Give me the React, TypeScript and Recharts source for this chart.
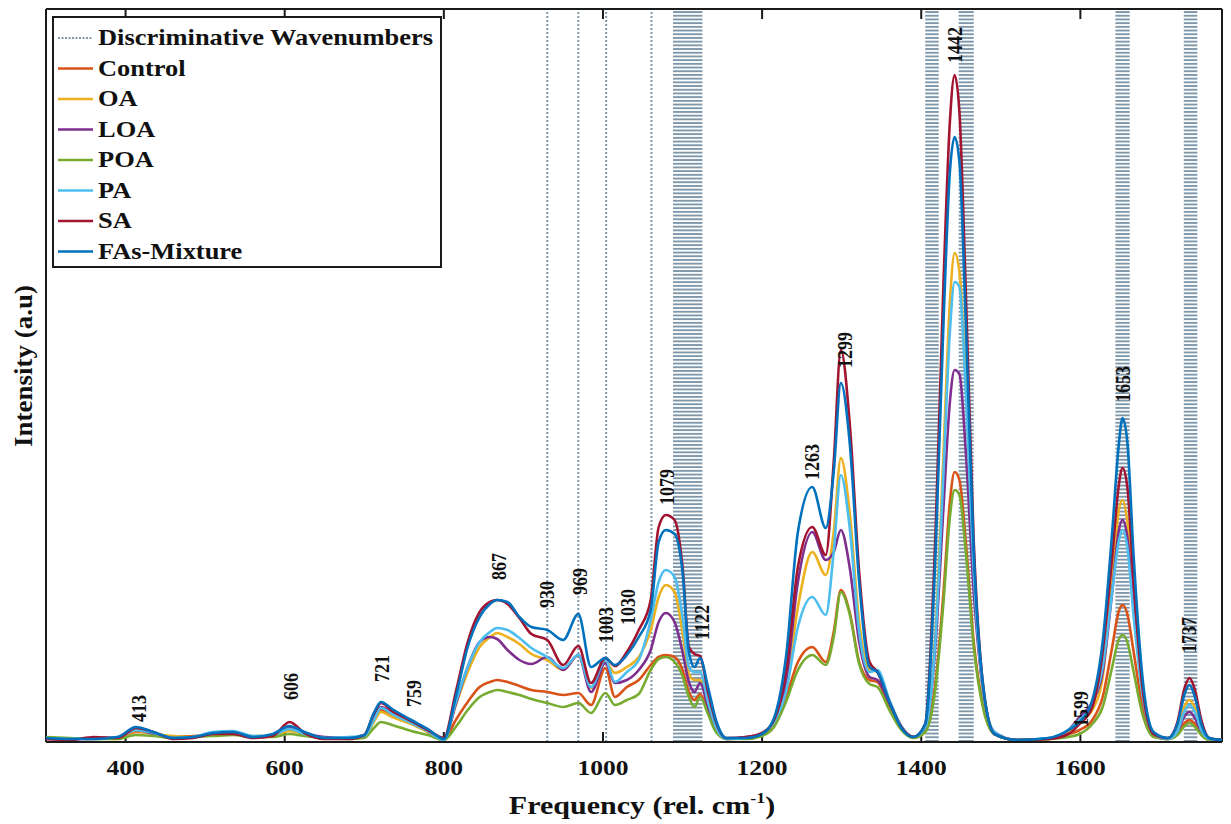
import React from 'react';
import { LineChart, Line, XAxis, YAxis, ReferenceLine, ReferenceArea, ReferenceDot } from 'recharts';

const wavenumbers = [300,330,360,390,413,435,460,485,510,535,560,585,606,625,650,680,700,712,721,735,759,780,800,815,830,845,858,867,880,895,910,930,950,969,985,1003,1015,1030,1045,1060,1070,1079,1090,1100,1108,1115,1122,1132,1142,1155,1180,1200,1215,1230,1245,1263,1280,1290,1299,1310,1322,1335,1345,1360,1375,1390,1405,1418,1428,1436,1442,1448,1456,1466,1478,1492,1520,1560,1585,1599,1615,1628,1640,1648,1653,1659,1667,1678,1692,1710,1722,1731,1737,1744,1752,1762,1778];

const control = [4,3,4,4,10,9,5,6,7,8, 5,7,12,9,4,4,6,22,32,27, 19,10,2,22,40,55,60,62,60,56, 52,50,47,49,37,74,45,55,62,77, 85,87,85,72,50,42,48,30,12,3, 4,8,18,45,80,95,80,110,152,130, 80,62,60,35,14,5,12,60,150,240, 270,262,200,100,35,8,2,3,8,12, 22,45,95,130,137,128,90,35,6,3, 8,19,22,18,8,2,2];
const oa = [4,3,4,3,11,8,6,5,8,9, 6,6,11,8,4,4,6,20,30,25, 18,10,2,37,70,95,105,109,105,98, 88,82,72,87,54,80,69,75,85,112, 145,157,150,110,68,62,62,38,15,3, 4,8,20,55,135,190,167,210,284,230, 120,72,70,40,15,5,14,110,290,440, 489,470,360,170,50,8,2,3,10,20, 32,65,165,230,242,220,140,50,7,3, 12,36,42,34,14,3,2];
const loa = [3,3,3,4,12,8,4,5,7,8, 5,7,14,9,5,4,7,25,35,29, 20,11,2,38,75,100,105,103,92,82, 78,85,72,87,50,79,59,62,72,92, 120,129,120,90,60,50,59,35,14,3, 5,8,22,60,160,210,182,190,212,175, 100,65,62,38,15,5,14,100,235,340, 372,368,290,150,50,10,2,3,12,25, 40,70,150,210,222,205,135,50,8,3, 10,26,30,24,10,3,2];
const poa = [5,4,3,3,7,6,4,5,6,7, 5,5,8,6,4,3,4,14,20,17, 11,7,2,15,32,45,50,52,50,47, 43,39,35,39,29,49,37,42,48,72, 83,85,80,66,45,35,45,28,10,3, 3,6,15,40,72,87,77,105,150,128, 78,58,55,32,12,4,10,55,140,225, 252,247,190,95,33,8,2,3,5,8, 18,35,75,102,107,100,70,28,5,3, 7,16,19,15,7,2,2];
const pa = [4,3,4,5,12,9,4,5,10,11, 6,7,13,8,4,5,6,22,34,28, 19,11,2,40,75,100,110,114,112,104, 94,85,74,87,55,82,60,70,82,122, 160,172,165,125,75,70,70,40,15,3, 4,9,20,50,115,145,127,190,267,215, 110,70,72,42,16,5,15,105,270,410, 460,455,350,170,50,10,2,4,12,22, 38,75,150,200,212,195,125,48,8,3, 11,31,37,30,12,3,2];
const sa = [3,2,5,4,14,10,3,4,8,8, 4,6,20,9,3,3,7,28,39,31, 21,12,4,50,100,130,140,142,138,124, 108,102,77,96,59,84,76,90,112,142, 215,227,222,175,95,88,86,50,20,4, 5,9,22,70,175,215,187,280,392,320, 170,80,70,40,15,5,18,210,460,620, 667,630,450,200,55,8,2,3,8,18, 35,90,185,255,274,255,160,55,8,4, 20,54,64,52,22,4,2];
const fasMixture = [4,3,3,5,15,10,4,5,9,10, 5,8,16,10,4,4,7,29,40,33, 22,13,3,45,95,125,138,142,140,125, 115,112,102,128,75,84,77,87,105,132, 200,212,208,170,90,75,84,55,22,4, 4,8,24,85,210,255,214,270,359,300, 160,75,70,40,14,5,18,190,420,570, 605,580,420,190,55,8,2,4,12,20, 42,100,210,295,324,300,185,65,10,4, 18,48,57,45,18,4,2];

const seriesNames = ['Control', 'OA', 'LOA', 'POA', 'PA', 'SA', 'FAs-Mixture'];
const seriesValues = [control, oa, loa, poa, pa, sa, fasMixture];
const seriesColors = ['#D95319', '#EDB120', '#7E2F8E', '#77AC30', '#4DBEEE', '#A2142F', '#0072BD'];

const xTicks = [400, 600, 800, 1000, 1200, 1400, 1600];
const discriminativeLines = [930, 969, 1004, 1061];
const discriminativeBands = [[1088, 1125], [1405, 1422], [1447, 1466], [1644, 1662], [1730, 1747]];

const peakLabels = ['413', '606', '721', '759', '867', '930', '969', '1003', '1030', '1079', '1122', '1263', '1299', '1442', '1599', '1653', '1737'];
const peakLabelX = [417, 608, 722, 762, 870, 930, 971, 1004, 1032, 1081, 1125, 1263, 1304, 1443, 1601, 1653, 1737];
const peakLabelY = [20, 42, 60, 35, 162, 134, 147, 99, 117, 237, 102, 262, 374, 679, 15, 340, 89];

const X_MIN = 300;
const X_MAX = 1778;
const Y_MAX = 733;
const S = 1.16;
const FONT = "'Liberation Serif', 'Times New Roman', serif";
const AXIS = '#1a1a1a';
const DISC = '#7f97aa';

const data = wavenumbers.map((w, i) => {
  const row: Record<string, number> = { w };
  seriesNames.forEach((n, k) => { row[n] = seriesValues[k][i]; });
  return row;
});

const XTick = (props: any) => {
  const { x, y, payload } = props;
  return (
    <g transform={`translate(${x},${y + 33}) scale(${S},1)`}>
      <text x={0} y={0} textAnchor="middle" fontFamily={FONT} fontWeight="bold" fontSize={22} fill="#111">{payload.value}</text>
    </g>
  );
};

const makePeakShape = (label: string) => (props: any) => {
  const { cx, cy } = props;
  return (
    <g transform={`translate(${cx},${cy}) scale(${S},1) rotate(-90)`}>
      <text x={0} y={0} dominantBaseline="central" textAnchor="start" fontFamily={FONT} fontWeight="bold" fontSize={18} fill="#111">{label}</text>
    </g>
  );
};

const legendTop = 17;
const legendLeft = 53;

export default function App() {
  return (
    <div style={{ position: 'absolute', left: 0, top: 0, width: 1231, height: 824, background: '#fff', overflow: 'hidden' }}>
      <LineChart width={1231} height={824} data={data} margin={{ top: 9, right: 9, bottom: 52, left: 46 }}>
        <defs>
          <pattern id="discBand" patternUnits="userSpaceOnUse" width="6" height="3.7">
            <rect x="0" y="0" width="6" height="1.9" fill={DISC} />
          </pattern>
        </defs>
        <XAxis type="number" dataKey="w" domain={[X_MIN, X_MAX]} allowDataOverflow ticks={xTicks} height={30}
          tickSize={0} tickMargin={0} tickLine={false} axisLine={{ stroke: AXIS, strokeWidth: 2 }} tick={<XTick />} />
        <YAxis type="number" domain={[0, Y_MAX]} allowDataOverflow hide />
        {discriminativeBands.map((b, i) => (
          <ReferenceArea key={'band' + i} x1={b[0]} x2={b[1]} y1={0} y2={Y_MAX} fill="url(#discBand)" fillOpacity={1} stroke="none" />
        ))}
        {discriminativeLines.map((v, i) => (
          <ReferenceLine key={'dl' + i} x={v} stroke={DISC} strokeWidth={2} strokeDasharray="2 2" />
        ))}
        <ReferenceLine x={X_MIN} stroke={AXIS} strokeWidth={2} />
        <ReferenceLine x={X_MAX} stroke={AXIS} strokeWidth={2} />
        <ReferenceLine y={Y_MAX} stroke={AXIS} strokeWidth={2} />
        {xTicks.map((t) => (
          <ReferenceLine key={'bt' + t} segment={[{ x: t, y: 0 }, { x: t, y: 10 }]} stroke={AXIS} strokeWidth={2} />
        ))}
        {xTicks.map((t) => (
          <ReferenceLine key={'tt' + t} segment={[{ x: t, y: Y_MAX }, { x: t, y: Y_MAX - 10 }]} stroke={AXIS} strokeWidth={2} />
        ))}
        {seriesNames.map((n, k) => (
          <Line key={n} type="monotone" dataKey={n} stroke={seriesColors[k]} strokeWidth={2.6} dot={false} isAnimationActive={false} />
        ))}
        {peakLabels.map((l, i) => (
          <ReferenceDot key={'pl' + i} x={peakLabelX[i]} y={peakLabelY[i]} r={0} shape={makePeakShape(l)} />
        ))}
      </LineChart>
      <svg width={1231} height={824} style={{ position: 'absolute', left: 0, top: 0, pointerEvents: 'none' }}>
        <rect x={legendLeft} y={legendTop} width={388} height={250} fill="#fff" stroke={AXIS} strokeWidth={2} />
        <line x1={58} x2={93} y1={legendTop + 21} y2={legendTop + 21} stroke={DISC} strokeWidth={2} strokeDasharray="2 1.5" />
        <g transform={`translate(98,${legendTop + 28}) scale(1.15,1)`}>
          <text x={0} y={0} fontFamily={FONT} fontWeight="bold" fontSize={23} fill="#111">Discriminative Wavenumbers</text>
        </g>
        {seriesNames.map((n, k) => {
          const cy = legendTop + 21 + (k + 1) * 30.5;
          return (
            <g key={n}>
              <line x1={58} x2={93} y1={cy} y2={cy} stroke={seriesColors[k]} strokeWidth={2.6} />
              <g transform={`translate(98,${cy + 7}) scale(1.15,1)`}>
                <text x={0} y={0} fontFamily={FONT} fontWeight="bold" fontSize={23} fill="#111">{n}</text>
              </g>
            </g>
          );
        })}
        <g transform={`translate(642,814) scale(1.2,1)`}>
          <text x={0} y={0} textAnchor="middle" fontFamily={FONT} fontWeight="bold" fontSize={25} fill="#111">
            Frequency (rel. cm<tspan fontSize={15} dy={-11}>-1</tspan><tspan dy={11}>)</tspan>
          </text>
        </g>
        <g transform={`translate(24,366) scale(0.95,1) rotate(-90)`}>
          <text x={0} y={0} textAnchor="middle" dominantBaseline="central" fontFamily={FONT} fontWeight="bold" fontSize={27} fill="#111">Intensity (a.u)</text>
        </g>
      </svg>
    </div>
  );
}
